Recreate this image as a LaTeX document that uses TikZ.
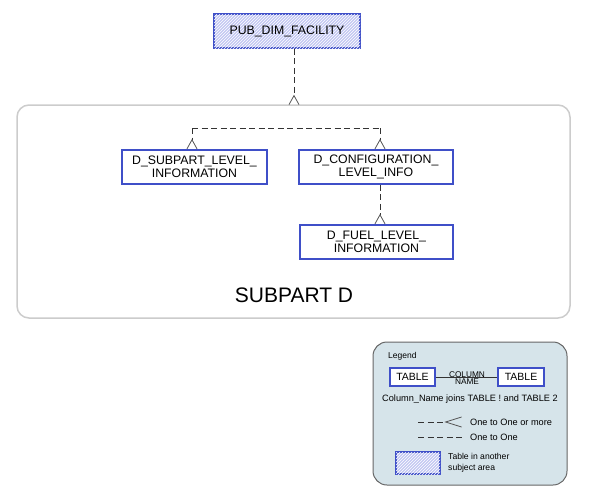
\documentclass[tikz,border=0pt]{standalone}
\usepackage{fontspec}
\setmainfont{Liberation Sans}
\usetikzlibrary{arrows.meta,patterns,positioning}
\definecolor{tblue}{HTML}{3F4FC8}
\definecolor{hatchfill}{HTML}{C4C8F2}
\definecolor{areagray}{HTML}{CCCCCC}
\definecolor{legfill}{HTML}{D6E4EA}
\definecolor{leggray}{HTML}{666666}
\definecolor{conngray}{HTML}{333333}
\definecolor{footgray}{HTML}{555555}
\tikzset{
  tbl/.style={draw=tblue, line width=1.6pt, fill=white, align=center, inner sep=0pt, font=\fontsize{12.3}{13}\selectfont},
  other/.style={tbl, fill=hatchfill, postaction={pattern=north east lines, pattern color=white}},
  conn/.style={draw=conngray, dashed, dash pattern=on 6pt off 3.5pt, line width=0.8pt},
  crow/.style={conn, -{Straight Barb[reversed, length=9pt, width=10pt, line width=0.8pt, color=footgray]}},
  bigcrow/.style={conn, -{Straight Barb[reversed, length=16pt, width=10pt, line width=0.8pt, color=footgray]}},
  area/.style={draw=areagray, line width=1.5pt, rounded corners=12pt, fill=white},
  legtxt/.style={font=\fontsize{9.2}{10.5}\selectfont, inner sep=0pt},
}
\begin{document}
\begin{tikzpicture}[x=1pt,y=-1pt]
\useasboundingbox (0,0) rectangle (591,501);
% subject area
\draw[area] (17,105) rectangle (570,318);
\coordinate (areatop) at (294,105);
\node[font=\fontsize{21}{22}\selectfont] (sub) at (294,295) {SUBPART D};
% tables
\node[other, minimum width=146pt, minimum height=34pt] (pub) at (287,31) {PUB\_DIM\_FACILITY};
\node[tbl, minimum width=145pt, minimum height=34pt] (subl) at (194.5,167) {D\_SUBPART\_LEVEL\_\\INFORMATION};
\node[tbl, minimum width=154pt, minimum height=34pt] (conf) at (376,167) {D\_CONFIGURATION\_\\LEVEL\_INFO};
\node[tbl, minimum width=153pt, minimum height=34pt] (fuel) at (376.5,242) {D\_FUEL\_LEVEL\_\\INFORMATION};
% connectors
\draw[crow] (pub.south -| areatop) -- (areatop);
\coordinate (fl) at (192,128);
\coordinate (fr) at (380,128);
\draw[conn] (fl) -- (fr);
\draw[crow] (fl) -- (fl |- subl.north);
\draw[crow] (fr) -- (fr |- conf.north);
\draw[crow] (fr |- conf.south) -- (fr |- fuel.north);
% legend
\draw[draw=leggray, fill=legfill, line width=1pt, rounded corners=14pt] (373,342) rectangle (567,485);
\node[legtxt, anchor=west, font=\fontsize{8.5}{10}\selectfont] (legt) at (388,356) {Legend};
\node[tbl, minimum width=45pt, minimum height=18pt, line width=1.4pt, font=\fontsize{10.5}{11}\selectfont] (t1) at (412.5,377) {TABLE};
\node[tbl, minimum width=46pt, minimum height=18pt, line width=1.4pt, font=\fontsize{10.5}{11}\selectfont] (t2) at (521,377) {TABLE};
\draw[conngray, line width=0.8pt] (t1.east) -- (t2.west);
\node[legtxt, font=\fontsize{8.3}{9}\selectfont, anchor=south] (col) at (467,377.5) {COLUMN};
\node[legtxt, font=\fontsize{8.3}{9}\selectfont, anchor=north, fill=legfill, inner sep=0.5pt] (nam) at (467,378.2) {NAME};
\node[legtxt] (joins) at (470,399) {Column\_Name joins TABLE ! and TABLE 2};
\coordinate (l1a) at (418,422);
\coordinate (l1b) at (462,422);
\draw[bigcrow] (l1a) -- (l1b);
\node[legtxt, anchor=west] (l1t) at (470,422) {One to One or more};
\coordinate (l2a) at (418,437);
\coordinate (l2b) at (462,437);
\draw[conn] (l2a) -- (l2b);
\node[legtxt, anchor=west] (l2t) at (470,437) {One to One};
\node[other, minimum width=44pt, minimum height=22pt, line width=1.4pt] (hb) at (418,463) {};
\node[legtxt, anchor=west, align=left, font=\fontsize{8.6}{10.5}\selectfont] (hbt) at (448,463) {Table in another\\subject area};
\end{tikzpicture}
\end{document}
